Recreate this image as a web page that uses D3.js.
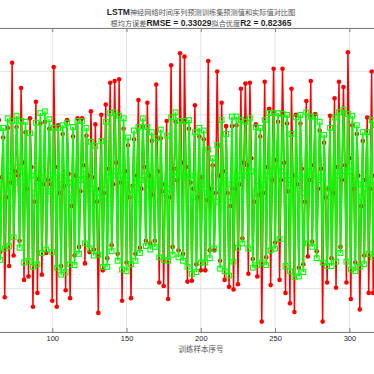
<!DOCTYPE html>
<html>
<head>
<meta charset="utf-8">
<script src="https://cdn.jsdelivr.net/npm/d3@7"></script>
<style>
  html, body { margin: 0; padding: 0; background: #fff; }
  svg { display: block; }
</style>
</head>
<body>
<svg id="chart" width="374" height="374"></svg>
<script>
// 样本序号从 64 开始（左边被裁掉的部分不画）
const startIndex = 64;

// 预测值（绿色方块）
const predicted = [
  0.85, -0.67, 0.20, 0.85, -0.54, 0.15, 0.96, -0.51, 0.30, 0.93,
  -0.41, 0.22, 0.99, 0.40, -0.53, 0.93, 0.35, -0.70, 0.92, 0.25,
  -0.68, 0.79, 0.30, -0.75, 0.10, 0.91, -0.72, 0.18, 1.02, -0.59,
  0.28, 1.04, -0.55, 0.12, 0.95, 0.30, -0.58, 0.85, 0.28, -0.76,
  0.85, 0.20, -0.84, 0.88, 0.30, -0.81, 0.91, 0.22, -0.72, 0.05,
  0.86, -0.73, 0.18, 0.93, -0.60, 0.25, 0.93, 0.32, -0.48, 0.85,
  0.20, -0.54, 0.69, 0.15, -0.62, 0.64, 0.10, -0.61, 0.05, 0.70,
  -0.75, 0.20, 0.92, -0.75, 0.28, 1.02, -0.57, 0.30, 1.03, 0.35,
  -0.68, 0.99, 0.30, -0.78, 0.96, 0.25, -0.80, 0.74, 0.15, -0.72,
  0.08, 0.82, -0.68, 0.22, 0.86, -0.59, 0.25, 0.96, 0.30, -0.51,
  0.86, 0.20, -0.55, 0.80, 0.18, -0.52, 0.73, 0.25, -0.64, 0.83,
  0.20, -0.67, 0.10, 0.76, -0.68, 0.15, 0.97, -0.61, 0.28, 1.03,
  0.35, -0.64, 0.93, 0.30, -0.68, 0.93, 0.28, -0.75, 0.94, 0.30,
  -0.83, 0.05, 0.80, -0.81, 0.15, 0.85, -0.70, 0.20, 0.82, -0.70,
  0.10, 0.60, -0.65, 0.05, 0.50, -0.54, 0.00, 0.65, 0.15, -0.77,
  0.94, 0.25, -0.80, 0.78, 0.20, -0.85, 0.05, 0.98, -0.69, 0.25,
  0.98, -0.53, 0.30, 0.94, -0.48, 0.35, 0.92, 0.30, -0.54, 0.96,
  0.35, -0.76, 0.10, 0.86, -0.73, 0.18, 0.85, -0.70, 0.20, 0.94,
  -0.73, 0.30, 1.02, -0.56, 0.35, 1.02, -0.54, 0.38, 1.02, -0.43,
  0.35, 1.01, 0.30, -0.74, 1.00, 0.25, -0.80, 0.78, 0.15, -0.87,
  0.97, 0.30, -0.86, 1.00, 0.28, -0.81, 0.10, 1.03, -0.48, 0.35,
  0.98, -0.52, 0.32, 0.98, -0.65, 0.25, 0.92, 0.28, -0.70, 0.77,
  0.15, -0.74, 0.05, 0.85, -0.74, 0.20, 0.97, -0.69, 0.30, 1.03,
  -0.59, 0.35, 1.06, 0.30, -0.69, 1.01, 0.35, -0.78, 0.99, 0.25,
  -0.80, 0.88, 0.20, -0.75, 0.05, 0.80, -0.72, 0.15, 0.80, -0.60,
  0.25, 0.94, -0.64, 0.20, 0.88
];

// 实际值（红色圆点）
const actual = [
  0.94, -0.58, 0.28, 0.74, -1.10, 0.05, 0.85, -0.74, 0.22, 1.60,
  -0.62, 0.35, 0.86, 0.30, -0.45, 1.31, 0.45, -0.90, 0.80, 0.15,
  -0.86, 0.96, 0.40, -1.21, 0.00, 1.15, -1.05, 0.26, 0.90, -0.84,
  0.20, 0.92, -0.59, 0.25, 0.84, 0.20, -1.14, 1.55, 0.40, -1.21,
  0.88, 0.10, -0.74, 0.78, 0.18, -1.02, 0.94, 0.32, -1.11, -0.05,
  0.75, -0.62, 0.30, 0.96, -0.52, 0.12, 0.96, 0.42, -0.71, 0.76,
  0.30, -0.58, 1.04, 0.28, -0.55, 0.89, 0.00, -1.28, 0.15, 1.00,
  -0.79, 0.10, 1.12, -0.65, 0.38, 1.37, -0.50, 0.20, 1.39, 0.45,
  -0.60, 1.41, 0.22, -1.14, 0.84, 0.35, -0.70, 0.65, 0.05, -1.11,
  0.18, 0.72, -0.60, 0.30, 1.17, -0.53, 0.15, 0.86, 0.40, -0.45,
  1.14, 0.30, -0.48, 0.70, 0.08, -0.45, 1.35, 0.35, -0.93, 0.73,
  0.12, -0.97, 0.20, 0.93, -1.12, 0.05, 1.57, -0.52, 0.38, 0.92,
  0.25, -0.56, 1.71, 0.45, -0.60, 1.67, 0.40, -0.92, 0.84, 0.22,
  -0.91, 0.15, 1.11, -0.72, 0.05, 0.75, -0.79, 0.28, 0.72, -0.79,
  0.02, 1.62, -0.56, 0.15, 0.42, -0.56, 0.10, 1.50, 0.30, -0.68,
  1.14, 0.35, -0.90, 0.87, 0.10, -0.98, -0.05, 0.87, -1.01, 0.15,
  0.88, -0.95, 0.20, 1.30, -0.42, 0.45, 1.36, 0.42, -0.83, 1.37,
  0.50, -0.66, 0.00, 0.89, -0.86, 0.08, 0.75, -1.38, 0.10, 1.38,
  -0.64, 0.40, 1.07, -0.96, 0.25, 1.53, -0.47, 0.48, 0.92, -0.90,
  0.25, 1.53, 0.45, -1.05, 0.90, 0.12, -1.17, 1.30, 0.30, -1.27,
  1.00, 0.20, -0.76, 0.90, 0.38, -0.72, 0.00, 1.16, -0.63, 0.25,
  1.39, -0.46, 0.42, 1.01, -0.57, 0.15, 0.82, 0.38, -1.38, 0.68,
  0.05, -0.93, 0.15, 0.99, -0.65, 0.10, 1.19, -0.99, 0.40, 1.38,
  -0.52, 0.25, 1.32, 0.42, -0.93, 1.72, 0.50, -1.12, 0.88, 0.15,
  -0.70, 0.78, 0.30, -1.24, -0.05, 0.70, -0.62, 0.25, 0.97, -1.05,
  0.15, 1.50, -1.05, 0.30, 1.04
];

// 只有 100~300 落在画面里
const xTicks = [100, 150, 200, 250, 300];
const yTicks = [-1.5, -1, -0.5, 0, 0.5, 1, 1.5, 2];
const xDomain = [0, 320];
const yDomain = [-1.5, 2];

const titleLine1 = [["LSTM", "latin"], ["神经网络时间序列预测训练集预测值和实际值对比图", "cjk"]];
const titleLine2 = [["根均方误差", "cjk"], ["RMSE = 0.33029", "latin"], ["拟合优度", "cjk"], ["R2 = 0.82365", "latin"]];
const xLabel = "训练样本序号";

// 坐标区：左右两边都超出了画面
const plot = { left: -96.3, right: 379.1, top: 28, bottom: 332 };

const svg = d3.select("#chart");

const x = d3.scaleLinear().domain(xDomain).range([plot.left, plot.right]);
const y = d3.scaleLinear().domain(yDomain).range([plot.bottom, plot.top]);

// 网格
svg.append("g")
  .selectAll("line.vg")
  .data(xTicks)
  .enter().append("line")
  .attr("x1", d => x(d)).attr("x2", d => x(d))
  .attr("y1", plot.top).attr("y2", plot.bottom)
  .style("stroke", "#e3e3e3").style("stroke-width", 1);

svg.append("g")
  .selectAll("line.hg")
  .data(yTicks)
  .enter().append("line")
  .attr("x1", plot.left).attr("x2", plot.right)
  .attr("y1", d => y(d)).attr("y2", d => y(d))
  .style("stroke", "#e3e3e3").style("stroke-width", 1);

const rows = actual.map((a, i) => ({ idx: startIndex + i, actual: a, predicted: predicted[i] }));

const lineActual = d3.line().x(d => x(d.idx)).y(d => y(d.actual));
const linePred = d3.line().x(d => x(d.idx)).y(d => y(d.predicted));

const g = svg.append("g");

// 实际值：红线 + 实心圆
g.append("path")
  .datum(rows)
  .attr("d", lineActual)
  .style("fill", "none")
  .style("stroke", "#ff0000")
  .style("stroke-width", 1.5);

g.selectAll("circle")
  .data(rows)
  .enter().append("circle")
  .attr("cx", d => x(d.idx))
  .attr("cy", d => y(d.actual))
  .attr("r", 2.3)
  .style("fill", "#ff0000");

// 预测值：绿线 + 空心方块
g.append("path")
  .datum(rows)
  .attr("d", linePred)
  .style("fill", "none")
  .style("stroke", "#00ff00")
  .style("stroke-width", 1.7);

g.selectAll("rect")
  .data(rows)
  .enter().append("rect")
  .attr("x", d => x(d.idx) - 2.4)
  .attr("y", d => y(d.predicted) - 2.4)
  .attr("width", 4.8)
  .attr("height", 4.8)
  .style("fill", "none")
  .style("stroke", "#00ff00")
  .style("stroke-width", 1.1);

// 坐标轴
const axisColor = "#262626";

const xAxis = svg.append("g")
  .attr("transform", `translate(0,${plot.bottom})`)
  .call(d3.axisBottom(x).tickValues(xTicks).tickSize(-4).tickPadding(4).tickSizeOuter(0));
xAxis.select(".domain").style("stroke", "#808080").style("stroke-width", 1);
xAxis.selectAll(".tick line").style("stroke", "#808080");
xAxis.selectAll(".tick text")
  .style("font-family", "'Liberation Sans', Arial, sans-serif")
  .style("font-size", "7.5px")
  .style("fill", axisColor);

const topAxis = svg.append("g")
  .attr("transform", `translate(0,${plot.top})`)
  .call(d3.axisTop(x).tickValues(xTicks).tickSize(-4).tickFormat("").tickSizeOuter(0));
topAxis.select(".domain").style("stroke", "#808080").style("stroke-width", 1);
topAxis.selectAll(".tick line").style("stroke", "#808080");

// 标题
function addLine(parts, yPos) {
  const t = svg.append("text")
    .attr("x", 201)
    .attr("y", yPos)
    .attr("text-anchor", "middle");
  parts.forEach(p => {
    const s = t.append("tspan").text(p[0]);
    if (p[1] === "latin") {
      s.style("font-family", "'Liberation Sans', Arial, sans-serif")
        .style("font-size", "8.5px")
        .style("font-weight", "bold")
        .style("fill", axisColor);
    } else {
      s.style("font-family", "'Noto Sans CJK SC', sans-serif")
        .style("font-size", "7.2px")
        .style("fill", "#555");
    }
  });
}
addLine(titleLine1, 15);
addLine(titleLine2, 26);

svg.append("text")
  .attr("x", 201)
  .attr("y", 352)
  .attr("text-anchor", "middle")
  .style("font-family", "'Noto Sans CJK SC', sans-serif")
  .style("font-size", "7.5px")
  .style("fill", "#555")
  .text(xLabel);
</script>
</body>
</html>
